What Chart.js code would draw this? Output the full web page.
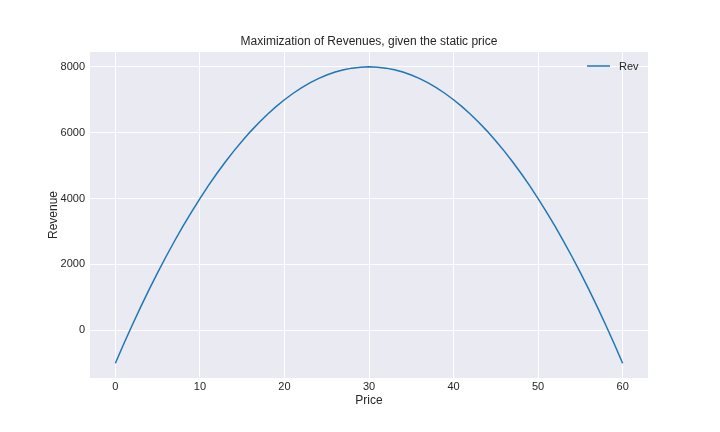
<!DOCTYPE html>
<html>
<head>
<meta charset="utf-8">
<script src="https://cdn.jsdelivr.net/npm/chart.js@4/dist/chart.umd.min.js"></script>
<style>
html,body{margin:0;padding:0;background:#fff;}
#wrap{width:720px;height:432px;}
</style>
</head>
<body>
<div id="wrap"><canvas id="c" width="720" height="432"></canvas></div>
<script>
const chartTitle = "Maximization of Revenues, given the static price";
const seriesLabel = "Rev";
const prices = [0,1,2,3,4,5,6,7,8,9,10,11,12,13,14,15,16,17,18,19,20,21,22,23,24,25,26,27,28,29,30,
  31,32,33,34,35,36,37,38,39,40,41,42,43,44,45,46,47,48,49,50,51,52,53,54,55,56,57,58,59,60];
const revenues = [-1000,-410,160,710,1240,1750,2240,2710,3160,3590,4000,4390,4760,5110,5440,5750,6040,6310,6560,6790,7000,
  7190,7360,7510,7640,7750,7840,7910,7960,7990,8000,
  7990,7960,7910,7840,7750,7640,7510,7360,7190,7000,
  6790,6560,6310,6040,5750,5440,5110,4760,4390,4000,
  3590,3160,2710,2240,1750,1240,710,160,-410,-1000];
const xTicks = [0,10,20,30,40,50,60];
const yTicks = [0,2000,4000,6000,8000];

const FONT = "'Liberation Sans', Arial, sans-serif";
const TXT = '#262626';

const bgPlugin = {
  id: 'bg',
  beforeDraw(chart) {
    const {ctx, chartArea: a} = chart;
    ctx.save();
    ctx.fillStyle = '#EAEAF2';
    ctx.fillRect(a.left, a.top, a.right - a.left, a.bottom - a.top);
    ctx.restore();
  }
};
const legendPlugin = {
  id: 'innerLegend',
  afterDraw(chart) {
    const {ctx, chartArea: a} = chart;
    const ds = chart.data.datasets[0];
    const y = a.top + 14;
    const x1 = a.right - 61, x2 = a.right - 38;
    ctx.save();
    ctx.strokeStyle = ds.borderColor;
    ctx.lineWidth = 1.5;
    ctx.beginPath(); ctx.moveTo(x1, y); ctx.lineTo(x2, y); ctx.stroke();
    ctx.fillStyle = TXT;
    ctx.font = "11px " + FONT;
    ctx.textBaseline = 'middle';
    ctx.textAlign = 'left';
    ctx.fillText(ds.label, a.right - 29, y + 0.5);
    ctx.restore();
  }
};

new Chart(document.getElementById('c'), {
  type: 'line',
  data: {
    datasets: [{
      label: seriesLabel,
      data: prices.map((p, i) => ({x: p, y: revenues[i]})),
      borderColor: '#1f77b4',
      borderWidth: 1.5,
      pointRadius: 0,
      tension: 0,
      fill: false
    }]
  },
  options: {
    responsive: false,
    animation: false,
    events: [],
    layout: {padding: {left: 46.5, right: 72, top: 34.6, bottom: 23.8}},
    plugins: {
      legend: {display: false},
      tooltip: {enabled: false},
      title: {
        display: true,
        text: chartTitle,
        fullSize: false,
        color: TXT,
        font: {family: FONT, size: 12, weight: 'normal', lineHeight: 1.2},
        padding: {top: 0, bottom: 3}
      }
    },
    scales: {
      x: {
        type: 'linear',
        min: -3, max: 63,
        afterBuildTicks(s) { s.ticks = xTicks.map(v => ({value: v})); },
        afterFit(s) { s.height = 30.2; },
        grid: {color: '#ffffff', lineWidth: 1, drawTicks: false},
        border: {display: false},
        ticks: {color: TXT, font: {family: FONT, size: 11}, padding: 2, maxRotation: 0,
          callback: v => String(v)},
        title: {display: true, text: 'Price', color: TXT,
          font: {family: FONT, size: 12, lineHeight: 1.2}, padding: {top: 0, bottom: 0}}
      },
      y: {
        type: 'linear',
        min: -1450, max: 8450,
        afterBuildTicks(s) { s.ticks = yTicks.map(v => ({value: v})); },
        afterFit(s) { s.width = 43.5; },
        grid: {color: '#ffffff', lineWidth: 1, drawTicks: false},
        border: {display: false},
        ticks: {color: TXT, font: {family: FONT, size: 11}, padding: 5,
          callback: v => String(v)},
        title: {display: true, text: 'Revenue', color: TXT,
          font: {family: FONT, size: 12, lineHeight: 1.2}, padding: {top: 0, bottom: 0}}
      }
    }
  },
  plugins: [bgPlugin, legendPlugin]
});
</script>
</body>
</html>
